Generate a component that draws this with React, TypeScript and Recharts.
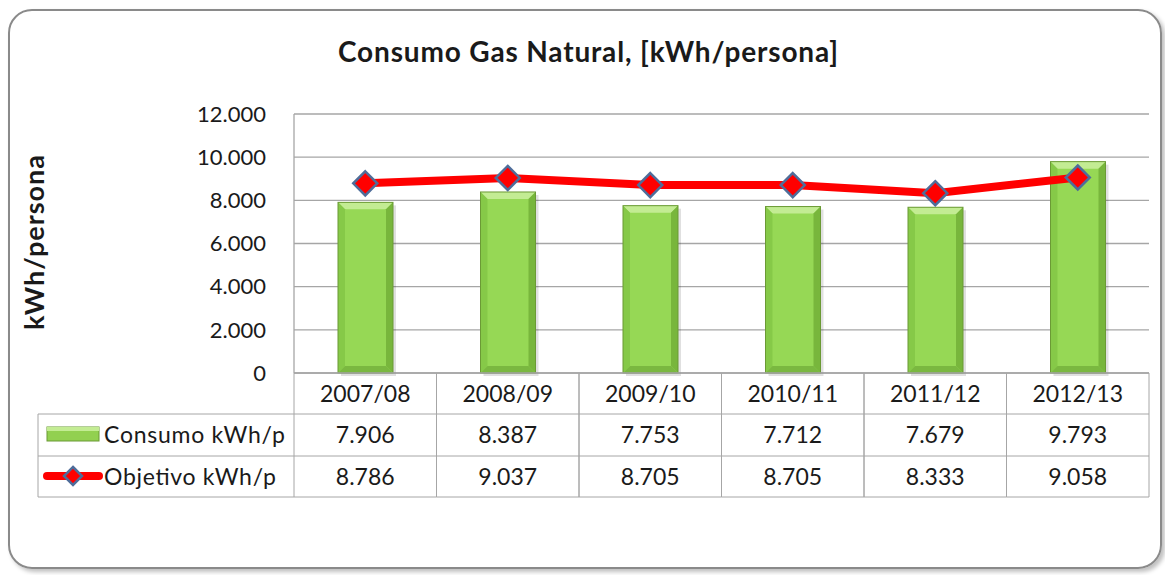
import React from "react";
import { Bar, CartesianGrid, ComposedChart, Line, XAxis, YAxis } from "recharts";

const categories = ["2007/08", "2008/09", "2009/10", "2010/11", "2011/12", "2012/13"];
const consumo = [7906, 8387, 7753, 7712, 7679, 9793];
const objetivo = [8786, 9037, 8705, 8705, 8333, 9058];
const yTicks = [0, 2000, 4000, 6000, 8000, 10000, 12000];
const seriesNames = ["Consumo kWh/p", "Objetivo kWh/p"];
const title = "Consumo Gas Natural, [kWh/persona]";
const yTitle = "kWh/persona";

const data = categories.map((cat, i) => ({ cat, consumo: consumo[i], objetivo: objetivo[i] }));

const W = 1165;
const H = 575;
const PLOT_L = 294;
const PLOT_R = 1149;
const PLOT_T = 114;
const PLOT_B = 373;
const TABLE_L = 38;
const ROWS = [373, 414, 456, 497];
const BAND = (PLOT_R - PLOT_L) / categories.length;

const FONT = "Lato, 'Open Sans', sans-serif";
const GRID = "#a6a6a6";
const TXT = "#1a1a1a";

const fmt = (v: number) => String(v).replace(/\B(?=(\d{3})+(?!\d))/g, ".");

function Diamond({ cx, cy, r = 12 }: { cx?: number; cy?: number; r?: number }) {
  if (cx == null || cy == null) return null;
  return (
    <polygon
      points={`${cx},${cy - r} ${cx + r},${cy} ${cx},${cy + r} ${cx - r},${cy}`}
      fill="#ff0000"
      stroke="#4f6d9a"
      strokeWidth={2.5}
    />
  );
}

function BevelBar(props: any) {
  const { x, y, width: w, height: h } = props;
  if (!h || h <= 0) return null;
  const b = 7;
  return (
    <g>
      <rect x={x + 3} y={y + 3} width={w} height={h} fill="#000" opacity={0.12} />
      <rect x={x} y={y} width={w} height={h} fill="#96d855" />
      <polygon points={`${x},${y} ${x + w},${y} ${x + w - b},${y + b} ${x + b},${y + b}`} fill="#c3ec93" />
      <polygon points={`${x},${y} ${x + b},${y + b} ${x + b},${y + h - b} ${x},${y + h}`} fill="#86c948" />
      <polygon points={`${x + w},${y} ${x + w - b},${y + b} ${x + w - b},${y + h - b} ${x + w},${y + h}`} fill="#78b63c" />
      <polygon points={`${x},${y + h} ${x + b},${y + h - b} ${x + w - b},${y + h - b} ${x + w},${y + h}`} fill="#7ab840" />
      <rect x={x} y={y} width={w} height={h} fill="none" stroke="#6b9a35" strokeWidth={1} />
    </g>
  );
}

function TableTick(props: any) {
  const { x, payload, index } = props;
  const i = index ?? categories.indexOf(payload.value);
  const l = x - BAND / 2;
  const r = x + BAND / 2;
  const mid = (a: number, b: number) => (a + b) / 2 + 8;
  return (
    <g fontFamily={FONT} fontSize={23} fill={TXT}>
      {i === 0 && (
        <g>
          <line x1={TABLE_L} y1={ROWS[1]} x2={TABLE_L} y2={ROWS[3]} stroke={GRID} />
          <line x1={TABLE_L} y1={ROWS[1]} x2={l} y2={ROWS[1]} stroke={GRID} />
          <line x1={TABLE_L} y1={ROWS[2]} x2={l} y2={ROWS[2]} stroke={GRID} />
          <line x1={TABLE_L} y1={ROWS[3]} x2={l} y2={ROWS[3]} stroke={GRID} />
          <rect x={47} y={427} width={52} height={14} fill="#92d050" stroke="#6b9a35" />
          <rect x={47} y={427} width={52} height={4} fill="#c3ec93" />
          <text x={104} y={mid(ROWS[1], ROWS[2])} fill={TXT} textLength={181} lengthAdjust="spacing">
            {seriesNames[0]}
          </text>
          <line x1={47} y1={476} x2={99} y2={476} stroke="#ff0000" strokeWidth={8} strokeLinecap="round" />
          <Diamond cx={73} cy={476} r={9} />
          <text x={104} y={mid(ROWS[2], ROWS[3])} fill={TXT} textLength={172} lengthAdjust="spacing">
            {seriesNames[1]}
          </text>
        </g>
      )}
      <line x1={l} y1={ROWS[0]} x2={l} y2={ROWS[3]} stroke={GRID} />
      <line x1={r} y1={ROWS[0]} x2={r} y2={ROWS[3]} stroke={GRID} />
      <line x1={l} y1={ROWS[1]} x2={r} y2={ROWS[1]} stroke={GRID} />
      <line x1={l} y1={ROWS[2]} x2={r} y2={ROWS[2]} stroke={GRID} />
      <line x1={l} y1={ROWS[3]} x2={r} y2={ROWS[3]} stroke={GRID} />
      <text x={x} y={mid(ROWS[0], ROWS[1])} textAnchor="middle" fill={TXT}>{categories[i]}</text>
      <text x={x} y={mid(ROWS[1], ROWS[2])} textAnchor="middle" fill={TXT}>{fmt(consumo[i])}</text>
      <text x={x} y={mid(ROWS[2], ROWS[3])} textAnchor="middle" fill={TXT}>{fmt(objetivo[i])}</text>
    </g>
  );
}

export default function App() {
  return (
    <div style={{ position: "absolute", left: 0, top: 0, width: W, height: H, background: "#fff", fontFamily: FONT }}>
      <div
        style={{
          position: "absolute",
          left: 8,
          top: 9,
          width: 1150,
          height: 556,
          border: "2px solid #8a8a8a",
          borderRadius: 24,
          boxShadow: "3px 3px 4px rgba(0,0,0,0.25)",
        }}
      />
      <svg width={W} height={H} style={{ position: "absolute", left: 0, top: 0 }}>
        <text
          x={338}
          y={62}
          fontFamily={FONT}
          fontSize={28}
          fontWeight={700}
          fill={TXT}
          textLength={500}
          lengthAdjust="spacing"
        >
          {title}
        </text>
        <text
          transform="translate(44,330) rotate(-90)"
          x={0}
          y={0}
          fontFamily={FONT}
          fontSize={27}
          fontWeight={700}
          fill={TXT}
          textLength={175}
          lengthAdjust="spacing"
        >
          {yTitle}
        </text>
      </svg>
      <div style={{ position: "absolute", left: 0, top: 0 }}>
        <ComposedChart
          width={W}
          height={H}
          data={data}
          margin={{ top: PLOT_T, right: W - PLOT_R, bottom: 0, left: 0 }}
        >
          <CartesianGrid vertical={false} stroke={GRID} strokeWidth={1.3} />
          <XAxis
            dataKey="cat"
            height={H - PLOT_B}
            interval={0}
            tickLine={false}
            axisLine={{ stroke: GRID, strokeWidth: 1.3 }}
            tick={<TableTick />}
          />
          <YAxis
            width={PLOT_L}
            domain={[0, 12000]}
            ticks={yTicks}
            interval={0}
            tickLine={false}
            axisLine={{ stroke: GRID, strokeWidth: 1.3 }}
            tickMargin={22}
            tickFormatter={fmt}
            tick={{ fill: TXT, fontSize: 22, fontFamily: FONT }}
          />
          <Bar dataKey="consumo" name={seriesNames[0]} barSize={55} shape={<BevelBar />} isAnimationActive={false} />
          <Line
            dataKey="objetivo"
            name={seriesNames[1]}
            type="linear"
            stroke="#ff0000"
            strokeWidth={8}
            dot={(p: any) => <Diamond key={p.index} cx={p.cx} cy={p.cy} />}
            activeDot={false}
            isAnimationActive={false}
          />
        </ComposedChart>
      </div>
    </div>
  );
}
